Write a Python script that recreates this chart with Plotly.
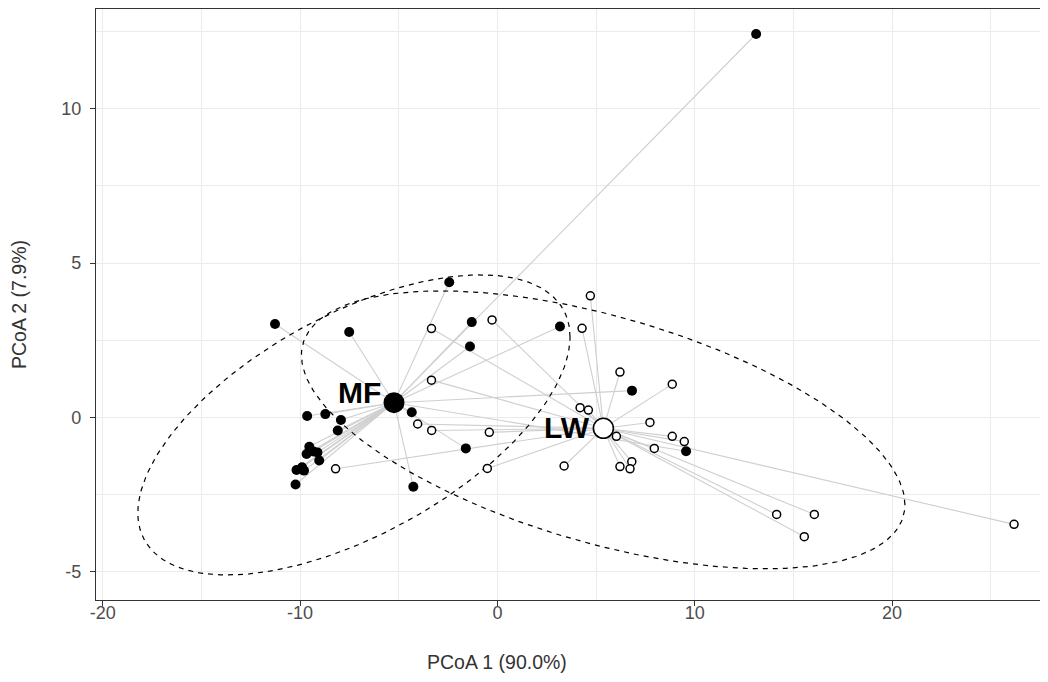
import numpy as np
import plotly.graph_objects as go

# ---------------- data ----------------
groups = ["MF", "LW"]

mf_x = [13.11, -2.44, -11.27, -7.51, -1.30, -1.39, 3.17, 6.82, -4.34, -9.64,
        -8.72, -7.93, -8.09, -1.60, -4.26, 9.56, -9.53, -9.32, -9.67, -9.12,
        -9.03, -10.18, -9.90, -9.80, -10.23]
mf_y = [12.42, 4.38, 3.03, 2.77, 3.09, 2.30, 2.95, 0.87, 0.17, 0.05,
        0.11, -0.08, -0.42, -1.00, -2.24, -1.09, -0.95, -1.10, -1.18, -1.13,
        -1.39, -1.70, -1.61, -1.72, -2.17]

lw_x = [4.71, -3.34, -0.27, 4.29, -3.34, 6.21, 8.86, 4.19, 4.61, 7.73,
        6.03, 8.86, 9.47, 7.95, -4.04, -3.33, -0.41, -8.20, -0.51, 3.38,
        6.21, 6.81, 6.72, 14.15, 16.06, 15.55, 26.18]
lw_y = [3.94, 2.88, 3.16, 2.89, 1.21, 1.47, 1.08, 0.32, 0.24, -0.16,
        -0.61, -0.61, -0.78, -1.00, -0.21, -0.42, -0.48, -1.66, -1.65, -1.57,
        -1.59, -1.43, -1.66, -3.14, -3.14, -3.86, -3.46]

centroid_x = [-5.24, 5.37]
centroid_y = [0.48, -0.35]

# ellipse summaries per group: centre, x spread, y spread, covariance
ell_cx = [-7.27, 5.36]
ell_cy = [-0.24, -0.40]
ell_sx = [10.95, 15.29]
ell_sy = [4.86, 4.50]
ell_sxy = [31.2, -37.0]

x_ticks = [-20, -10, 0, 10, 20]
y_ticks = [-5, 0, 5, 10]
x_title = "PCoA 1 (90.0%)"
y_title = "PCoA 2 (7.9%)"

FONT = "Liberation Sans, Arial, sans-serif"

fig = go.Figure()

# spider segments
pts = {"MF": (mf_x, mf_y), "LW": (lw_x, lw_y)}
for gi, g in enumerate(groups):
    xs, ys = [], []
    for px, py in zip(*pts[g]):
        xs += [centroid_x[gi], px, None]
        ys += [centroid_y[gi], py, None]
    fig.add_trace(go.Scatter(x=xs, y=ys, mode="lines",
                             line=dict(color="#CFCFCF", width=1.1),
                             hoverinfo="skip", showlegend=False))

# ellipses
t = np.linspace(0, 2 * np.pi, 240)
for gi, g in enumerate(groups):
    S = np.array([[ell_sx[gi] ** 2, ell_sxy[gi]], [ell_sxy[gi], ell_sy[gi] ** 2]])
    L = np.linalg.cholesky(S)
    circ = np.vstack([np.cos(t), np.sin(t)])
    e = L @ circ
    fig.add_trace(go.Scatter(x=ell_cx[gi] + e[0], y=ell_cy[gi] + e[1], mode="lines",
                             line=dict(color="black", width=1.2, dash="5px,5px"),
                             hoverinfo="skip", showlegend=False))

# points
fig.add_trace(go.Scatter(x=mf_x, y=mf_y, mode="markers", name="MF",
                         marker=dict(size=10, color="black", line=dict(width=0)),
                         showlegend=False))
fig.add_trace(go.Scatter(x=lw_x, y=lw_y, mode="markers", name="LW",
                         marker=dict(size=8, color="white", line=dict(width=1.5, color="black")),
                         showlegend=False))

# centroids
fig.add_trace(go.Scatter(x=[centroid_x[0]], y=[centroid_y[0]], mode="markers",
                         marker=dict(size=21, color="black", line=dict(width=0)),
                         showlegend=False))
fig.add_trace(go.Scatter(x=[centroid_x[1]], y=[centroid_y[1]], mode="markers",
                         marker=dict(size=20, color="white", line=dict(width=1.6, color="black")),
                         showlegend=False))

# group labels
label_shift = [(-11, 10), (-11, 1)]
for gi, g in enumerate(groups):
    fig.add_annotation(x=centroid_x[gi], y=centroid_y[gi], text="<b>%s</b>" % g,
                       showarrow=False, xanchor="right", yanchor="middle",
                       xshift=label_shift[gi][0], yshift=label_shift[gi][1],
                       font=dict(family=FONT, size=30, color="black"))

# x axis title (centred under the visible part of the original panel)
fig.add_annotation(xref="paper", yref="paper", x=0.4212, y=0, text=x_title,
                   showarrow=False, xanchor="center", yanchor="middle", yshift=-62,
                   font=dict(family=FONT, size=19.5, color="#333333"))

grid = "#EBEBEB"
fig.update_layout(
    width=1040, height=666,
    margin=dict(l=88, r=0, t=1, b=74),
    plot_bgcolor="white", paper_bgcolor="white",
    font=dict(family=FONT),
    xaxis=dict(range=[-20.34, 27.9], tickvals=x_ticks, ticktext=[str(v) for v in x_ticks],
               showgrid=True, gridcolor=grid, gridwidth=1.3, zeroline=False,
               minor=dict(dtick=5, tick0=0, showgrid=True, gridcolor=grid, gridwidth=0.8),
               showline=True, linecolor="#333333", linewidth=1.3, mirror=True,
               ticks="outside", ticklen=5, tickwidth=1.2, tickcolor="#333333",
               ticklabelstandoff=-9,
               tickfont=dict(size=18, color="#4D4D4D")),
    yaxis=dict(range=[-5.91, 13.23], tickvals=y_ticks, ticktext=[str(v) for v in y_ticks],
               showgrid=True, gridcolor=grid, gridwidth=1.3, zeroline=False,
               minor=dict(dtick=2.5, tick0=0, showgrid=True, gridcolor=grid, gridwidth=0.8),
               showline=True, linecolor="#333333", linewidth=1.3, mirror=False,
               ticks="outside", ticklen=5, tickwidth=1.2, tickcolor="#333333",
               ticklabelstandoff=5,
               tickfont=dict(size=18, color="#4D4D4D"),
               title=dict(text=y_title, standoff=30, font=dict(size=19.5, color="#333333"))),
)

fig.write_html("out.html")
